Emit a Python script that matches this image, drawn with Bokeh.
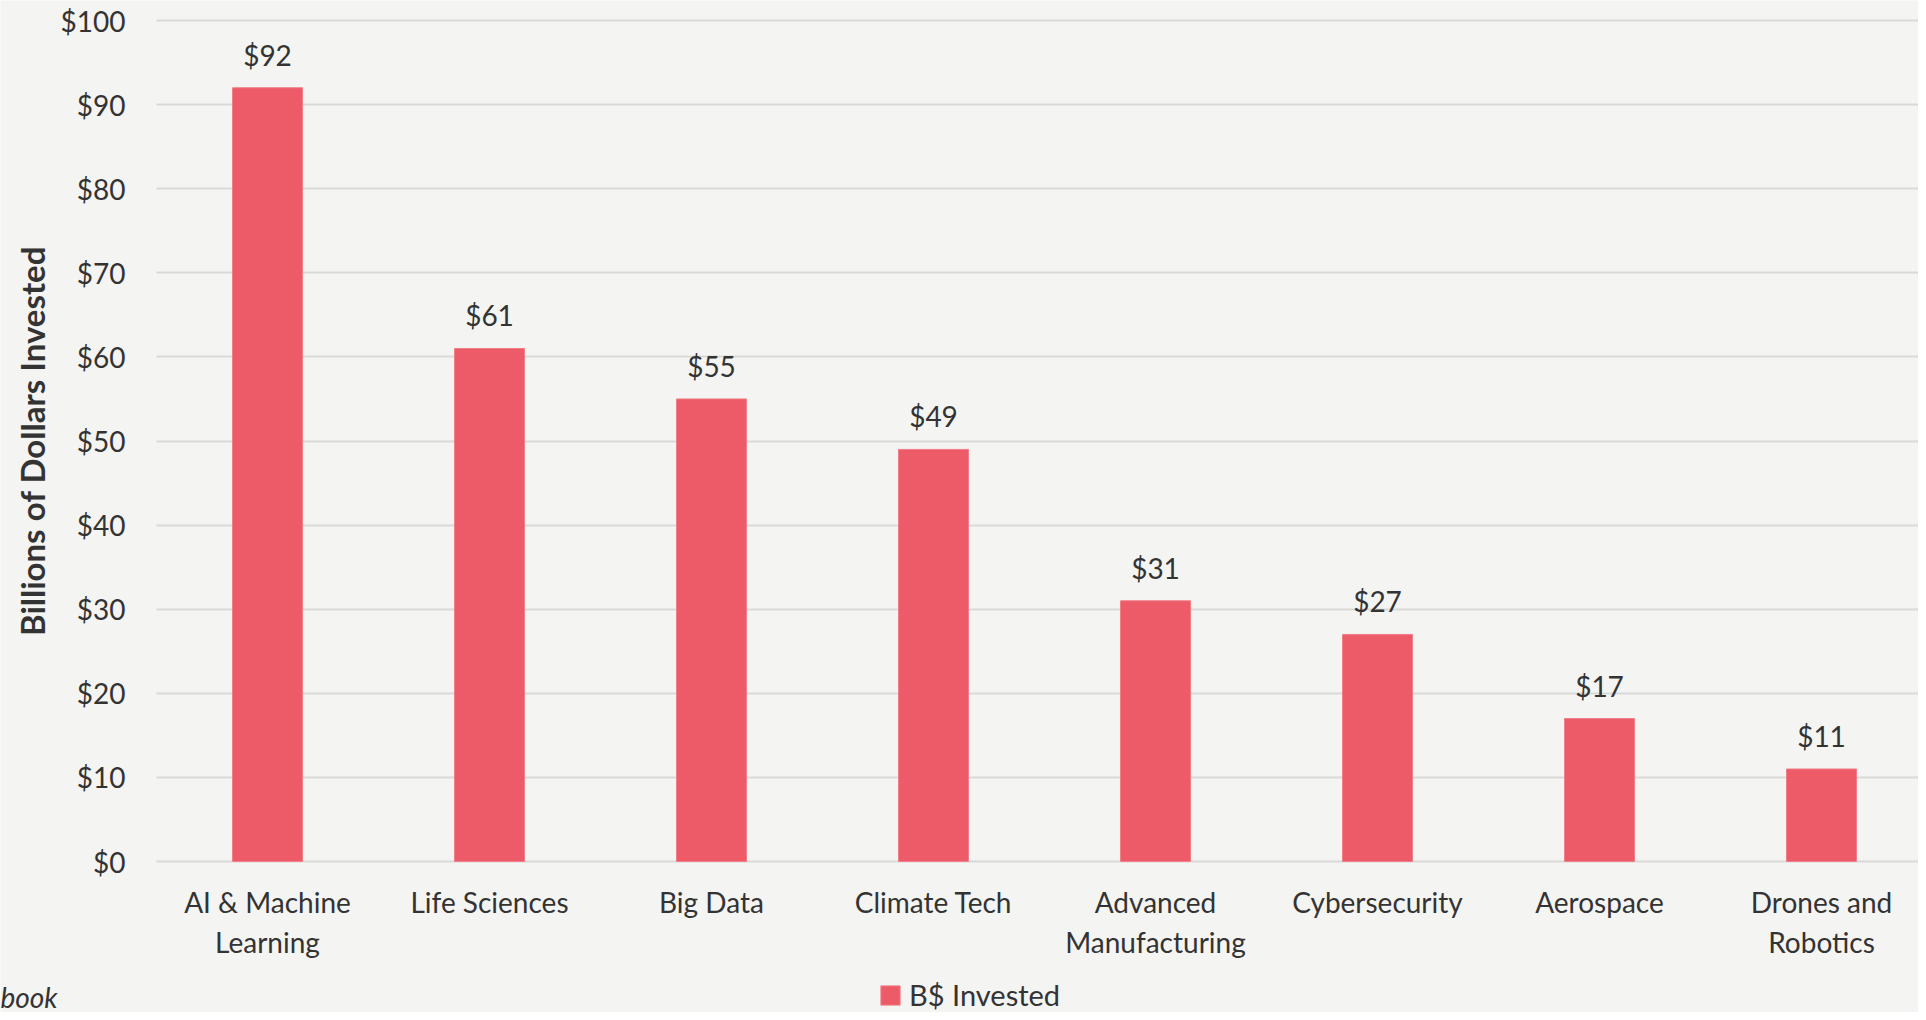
from bokeh.plotting import figure
from bokeh.models import Range1d, FixedTicker, Legend, LegendItem, Label, ColumnDataSource
from bokeh.core.properties import value
from bokeh.embed import file_html
from bokeh.resources import INLINE

categories = ["AI & Machine\nLearning", "Life Sciences", "Big Data", "Climate Tech",
              "Advanced\nManufacturing", "Cybersecurity", "Aerospace", "Drones and\nRobotics"]
invested = [92, 61, 55, 49, 31, 27, 17, 11]
y_ticks = [0, 10, 20, 30, 40, 50, 60, 70, 80, 90, 100]
y_tick_labels = ["$" + str(t) for t in y_ticks]
value_labels = ["$" + str(v) for v in invested]

FONT = "Lato"
BG = "#F4F4F2"
BAR = "#EC5B67"
TXT = "#333333"

W, H = 1918, 1012
PX_CAT = 222.0          # pixels per category
PLOT_LEFT = 156         # x of the plotting area's left edge
Y_TOP = 20              # pixels from top to the 100 line
Y_ZERO = 861            # pixels from top to the 0 line
PX_Y = (Y_ZERO - Y_TOP) / 100.0

x_start = -0.5 - PLOT_LEFT / PX_CAT
x_end = x_start + W / PX_CAT
y_end = 100 + Y_TOP / PX_Y
y_start = -(H - Y_ZERO) / PX_Y

p = figure(width=W, height=H, output_backend="svg", toolbar_location=None,
           x_range=Range1d(x_start, x_end), y_range=Range1d(y_start, y_end),
           min_border=0)
p.background_fill_color = BG
p.border_fill_color = BG
p.outline_line_color = None

xs = list(range(len(categories)))
src = ColumnDataSource(dict(x=xs, top=invested, lab=value_labels))
r = p.vbar(x="x", top="top", width=0.315, bottom=0, source=src,
           fill_color=BAR, line_color="#F07D87", line_width=1)
p.text(x="x", y="top", text="lab", source=src, text_align="center", text_baseline="bottom",
       y_offset=-16, text_font=value(FONT), text_font_size="28px", text_color=TXT)

# x axis, pinned at y = 0
xt = FixedTicker(ticks=xs)
p.xaxis.ticker = xt
p.xaxis.fixed_location = 0
p.xaxis.major_label_overrides = {i: c for i, c in enumerate(categories)}
p.xaxis.major_tick_line_color = None
p.xaxis.minor_tick_line_color = None
p.xaxis.axis_line_color = None
p.xaxis.major_label_standoff = 17
p.xaxis.major_label_text_font = FONT
p.xaxis.major_label_text_font_size = "28px"
p.xaxis.major_label_text_color = TXT
p.xaxis.major_label_text_line_height = 1.2

# y axis, pinned at the left edge of the plotting area
yt = FixedTicker(ticks=y_ticks)
p.yaxis.ticker = yt
p.yaxis.fixed_location = -0.5
p.yaxis.bounds = (0, 100)
p.yaxis.major_label_overrides = {t: l for t, l in zip(y_ticks, y_tick_labels)}
p.yaxis.major_tick_line_color = None
p.yaxis.minor_tick_line_color = None
p.yaxis.axis_line_color = None
p.yaxis.major_label_standoff = 25
p.yaxis.major_label_text_font = FONT
p.yaxis.major_label_text_font_size = "28px"
p.yaxis.major_label_text_color = TXT
p.yaxis.axis_label = "Billions of Dollars Invested"
p.yaxis.axis_label_text_font = FONT
p.yaxis.axis_label_text_font_size = "33px"
p.yaxis.axis_label_text_font_style = "bold"
p.yaxis.axis_label_text_color = TXT
p.yaxis.axis_label_standoff = 6

p.xgrid.grid_line_color = None
p.ygrid.ticker = yt
p.ygrid.cross_bounds = (-0.5, x_end + 1)
p.ygrid.grid_line_color = "#D9D9D9"
p.ygrid.grid_line_width = 2

legend = Legend(items=[LegendItem(label="B$ Invested", renderers=[r])],
                location=(878, 0), orientation="horizontal",
                background_fill_alpha=0, border_line_color=None,
                label_text_font=FONT, label_text_font_size="29px", label_text_color=TXT,
                glyph_width=24, glyph_height=24, padding=0, margin=0, spacing=0,
                label_standoff=7)
p.add_layout(legend, "center")

src_note = Label(x=0, y=16, x_units="screen", y_units="screen", text="book",
                 text_font=FONT, text_font_size="28px", text_font_style="italic",
                 text_color=TXT, text_baseline="middle")
p.add_layout(src_note)

open("out.html", "w").write(file_html(p, INLINE))
